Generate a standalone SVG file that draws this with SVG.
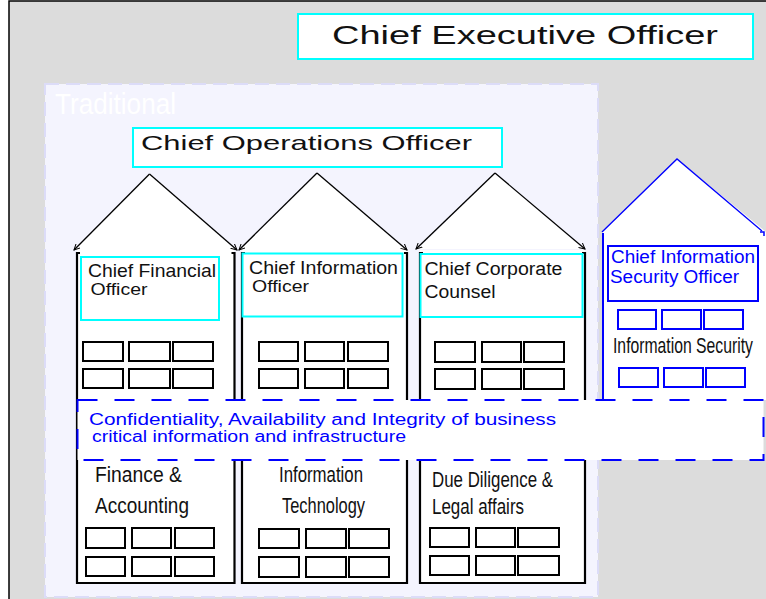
<svg xmlns="http://www.w3.org/2000/svg" width="766" height="599" viewBox="0 0 766 599">
<style>
text{font-family:"Liberation Sans",Arial,sans-serif;}
.cyan{fill:#fff;stroke:#00ffff;stroke-width:2;}
.win{fill:#fff;stroke:#000;stroke-width:2;}
.bwin{fill:#fff;stroke:#0000ff;stroke-width:2;}
.wall{fill:none;stroke:#000;stroke-width:2.2;}
.body{fill:#fff;stroke:none;}
.roof{fill:none;stroke:#000;stroke-width:1.3;marker-end:url(#ah);}
.broof{fill:none;stroke:#0000ff;stroke-width:1.3;}
.t{fill:#111;}
.blue{fill:#0000ff;}
</style>
<defs>
<marker id="ah" markerWidth="7" markerHeight="7" refX="6" refY="3.5" orient="auto" markerUnits="userSpaceOnUse">
<path d="M0,0.5 L6,3.5 L0,6.5" fill="none" stroke="#000" stroke-width="1"/>
</marker>
</defs>
<rect x="0" y="0" width="766" height="599" fill="#fff"/>
<rect x="9" y="1" width="757" height="598" fill="#dcdcdc"/>
<path d="M9,599 V1 H766" fill="none" stroke="#000" stroke-width="1.5"/>

<g id="traditional">
<rect x="45" y="84" width="553" height="513" fill="#f4f4fe" stroke="#dcdcf8" stroke-width="2" stroke-dasharray="14 7"/>
<text x="55" y="114" font-size="30" fill="#fff" textLength="121" lengthAdjust="spacingAndGlyphs">Traditional</text>
</g>

<g id="ceo">
<rect class="cyan" x="298" y="14" width="455" height="45"/>
<text class="t" x="332" y="44" font-size="25" textLength="386" lengthAdjust="spacingAndGlyphs">Chief Executive Officer</text>
</g>

<g id="coo">
<rect class="cyan" x="133" y="128" width="369" height="39"/>
<text class="t" x="141" y="150" font-size="21" textLength="331" lengthAdjust="spacingAndGlyphs">Chief Operations Officer</text>
</g>

<g id="house-finance">
<polygon class="body" points="149.5,174 75,250 236,250"/>
<rect class="body" x="77" y="250" width="157" height="333"/>
<path class="wall" d="M80,253 H77 V583 H234.5 V253 H231.5"/>
<rect class="cyan" x="81" y="257" width="138" height="63"/>
<text class="t" x="88" y="277" font-size="18.5" textLength="128" lengthAdjust="spacingAndGlyphs">Chief Financial</text>
<text class="t" x="90.5" y="295" font-size="16" textLength="57" lengthAdjust="spacingAndGlyphs">Officer</text>
<rect class="win" x="83" y="342" width="40" height="19"/>
<rect class="win" x="129" y="342" width="41" height="19"/>
<rect class="win" x="173" y="342" width="40" height="19"/>
<rect class="win" x="83" y="369" width="40" height="19"/>
<rect class="win" x="129" y="369" width="41" height="19"/>
<rect class="win" x="173" y="369" width="40" height="19"/>
<text class="t" x="95" y="482" font-size="22" textLength="87" lengthAdjust="spacingAndGlyphs">Finance &amp;</text>
<text class="t" x="95" y="513" font-size="22" textLength="94" lengthAdjust="spacingAndGlyphs">Accounting</text>
<rect class="win" x="86" y="528" width="39" height="20"/>
<rect class="win" x="132" y="528" width="39" height="20"/>
<rect class="win" x="175" y="528" width="39" height="20"/>
<rect class="win" x="86" y="557" width="39" height="19"/>
<rect class="win" x="132" y="557" width="39" height="19"/>
<rect class="win" x="175" y="557" width="39" height="19"/>
</g>

<g id="house-it">
<polygon class="body" points="317,173 240,250 406,250"/>
<rect class="body" x="242" y="250" width="165" height="333"/>
<path class="wall" d="M245,253 H242 V583 H407 V253 H404"/>
<rect class="cyan" x="242.5" y="253.5" width="160" height="63"/>
<text class="t" x="249" y="274" font-size="18" textLength="149" lengthAdjust="spacingAndGlyphs">Chief Information</text>
<text class="t" x="252" y="292" font-size="16" textLength="57" lengthAdjust="spacingAndGlyphs">Officer</text>
<rect class="win" x="259" y="342" width="39" height="19"/>
<rect class="win" x="305" y="342" width="39" height="19"/>
<rect class="win" x="348" y="342" width="40" height="19"/>
<rect class="win" x="259" y="369" width="39" height="19"/>
<rect class="win" x="305" y="369" width="39" height="19"/>
<rect class="win" x="348" y="369" width="40" height="19"/>
<text class="t" x="279" y="482" font-size="22" textLength="84" lengthAdjust="spacingAndGlyphs">Information</text>
<text class="t" x="282" y="513" font-size="22" textLength="83" lengthAdjust="spacingAndGlyphs">Technology</text>
<rect class="win" x="259" y="529" width="40" height="19"/>
<rect class="win" x="306" y="529" width="40" height="19"/>
<rect class="win" x="349" y="529" width="40" height="19"/>
<rect class="win" x="259" y="557" width="40" height="20"/>
<rect class="win" x="306" y="557" width="40" height="20"/>
<rect class="win" x="349" y="557" width="40" height="20"/>
</g>

<g id="house-legal">
<polygon class="body" points="495,173 418,249 584,249"/>
<rect class="body" x="420" y="250" width="165" height="333"/>
<path class="wall" d="M423,253 H420 V583 H585 V253 H582"/>
<rect class="cyan" x="420.5" y="254" width="162" height="63"/>
<text class="t" x="424.5" y="274.5" font-size="18" textLength="138" lengthAdjust="spacingAndGlyphs">Chief Corporate</text>
<text class="t" x="424.5" y="297.5" font-size="18" textLength="71" lengthAdjust="spacingAndGlyphs">Counsel</text>
<rect class="win" x="435" y="342" width="40" height="20"/>
<rect class="win" x="482" y="342" width="39" height="20"/>
<rect class="win" x="524" y="342" width="40" height="20"/>
<rect class="win" x="435" y="369" width="40" height="20"/>
<rect class="win" x="482" y="369" width="39" height="20"/>
<rect class="win" x="524" y="369" width="40" height="20"/>
<text class="t" x="432" y="486.5" font-size="22" textLength="121" lengthAdjust="spacingAndGlyphs">Due Diligence &amp;</text>
<text class="t" x="432" y="514" font-size="22" textLength="92" lengthAdjust="spacingAndGlyphs">Legal affairs</text>
<rect class="win" x="430" y="528" width="39" height="19"/>
<rect class="win" x="476" y="528" width="39" height="19"/>
<rect class="win" x="518" y="528" width="41" height="19"/>
<rect class="win" x="430" y="556" width="39" height="19"/>
<rect class="win" x="476" y="556" width="39" height="19"/>
<rect class="win" x="518" y="556" width="41" height="19"/>
</g>

<g id="house-security">
<polygon class="body" points="677,159 602,232 766,232"/>
<rect class="body" x="602" y="232" width="164" height="168"/>
<path class="broof" d="M602,232 L677,159 L762,231"/>
<path fill="none" stroke="#0000ff" stroke-width="2" d="M603,233 V400"/>
<path fill="none" stroke="#0000ff" stroke-width="1.5" d="M760,232 H764 V236"/>
<rect x="608" y="246" width="150" height="55" fill="#fff" stroke="#0000ff" stroke-width="2"/>
<text class="blue" x="611" y="262.5" font-size="18" textLength="144" lengthAdjust="spacingAndGlyphs">Chief Information</text>
<text class="blue" x="610" y="282.5" font-size="18" textLength="129" lengthAdjust="spacingAndGlyphs">Security Officer</text>
<rect class="bwin" x="618" y="310" width="38" height="19"/>
<rect class="bwin" x="662" y="310" width="39" height="19"/>
<rect class="bwin" x="704" y="310" width="39" height="19"/>
<text class="t" transform="translate(613,353) scale(0.70,1)" font-size="22.5">Information Security</text>
<rect class="bwin" x="619" y="368" width="39" height="19"/>
<rect class="bwin" x="664" y="368" width="39" height="19"/>
<rect class="bwin" x="706" y="368" width="39" height="19"/>
</g>

<g id="connectors">
<path class="roof" d="M149.5,174 L74,250"/>
<path class="roof" d="M149.5,174 L237,250"/>
<path class="roof" d="M317,173 L239,250"/>
<path class="roof" d="M317,173 L407,250"/>
<path class="roof" d="M495,173 L416,249"/>
<path class="roof" d="M495,173 L585,249"/>
</g>

<g id="cia-band">
<rect x="77.5" y="400" width="686" height="60" fill="#fff" stroke="#0000ff" stroke-width="2" stroke-dasharray="20 17"/>
<text class="blue" x="89" y="425" font-size="16" textLength="467" lengthAdjust="spacingAndGlyphs">Confidentiality, Availability and Integrity of business</text>
<text class="blue" x="92" y="442" font-size="16" textLength="314" lengthAdjust="spacingAndGlyphs">critical information and infrastructure</text>
</g>
</svg>
